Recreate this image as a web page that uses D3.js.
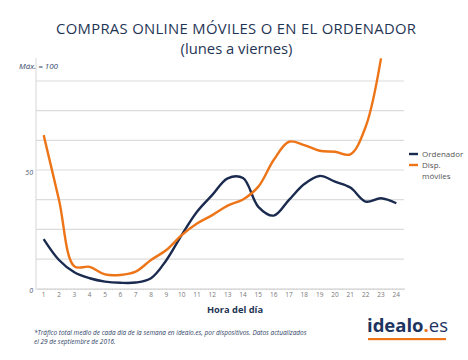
<!DOCTYPE html>
<html><head><meta charset="utf-8">
<script src="https://cdn.jsdelivr.net/npm/d3@7"></script>
<style>
html,body{margin:0;padding:0;background:#fff;}
svg{display:block;font-family:"Open Sans",sans-serif;}
</style></head>
<body>
<script>
const hours = d3.range(1, 25);
const ordenador = [20.9, 12.1, 6.9, 4.4, 3.0, 2.5, 2.6, 4.4, 12.0, 22.6, 32.4, 39.5, 46.5, 46.6, 34.5, 30.8, 37.4, 44.1, 47.5, 45.1, 42.6, 36.7, 38.1, 36.0];
const moviles = [64.7, 37.4, 9.4, 9.2, 6.0, 5.8, 7.2, 12.1, 16.3, 22.6, 27.5, 31.0, 35.0, 37.6, 43.0, 54.2, 61.9, 60.5, 58.1, 57.7, 56.6, 68.2, 97.0];
const yTicks = [0, 50];
const gridVals = [12.5, 25, 37.5, 50, 62.5, 75, 87.5];
const seriesNames = ["Ordenador", "Disp. móviles"];
const colors = ["#1b2b4f", "#ee7418"];

const W = 468, H = 360;
const svg = d3.select("body").append("svg").attr("width", W).attr("height", H);

const x = d3.scaleBand().domain(hours).range([36, 404]);
const y = d3.scaleLinear().domain([0, 100]).range([288.7, 51.3]);
const xc = d => x(d) + x.bandwidth() / 2;

// Title
svg.append("text").attr("x", 236).attr("y", 33.5).attr("text-anchor", "middle")
  .attr("font-size", 14.8).attr("fill", "#1f3554")
  .attr("textLength", 360).attr("lengthAdjust", "spacing")
  .text("COMPRAS ONLINE MÓVILES O EN EL ORDENADOR");
svg.append("text").attr("x", 236.5).attr("y", 54).attr("text-anchor", "middle")
  .attr("font-size", 14.8).attr("fill", "#1f3554").text("(lunes a viernes)");

// gridlines
svg.append("g").selectAll("line").data(gridVals).join("line")
  .attr("x1", 36).attr("x2", 404).attr("y1", d => y(d)).attr("y2", d => y(d))
  .attr("stroke", "#dcdcdc").attr("stroke-width", 1.2);

// vertical axis line
svg.append("line").attr("x1", 36).attr("x2", 36).attr("y1", 58).attr("y2", y(0))
  .attr("stroke", "#d6d6d6").attr("stroke-width", 1);

// x axis
const xAxis = d3.axisBottom(x).tickSize(0).tickPadding(4);
const gx = svg.append("g").attr("transform", `translate(0,${y(0)})`).call(xAxis);
gx.select(".domain").attr("stroke", "#d0d0d0").attr("stroke-width", 1.2);
gx.selectAll("text").attr("font-size", 6.5).attr("fill", "#777").attr("font-family", "Open Sans, sans-serif");
// minor ticks
const minor = d3.range(0, 24 * 4 + 1).map(i => 36 + i * x.bandwidth() / 4);
svg.append("g").selectAll("line").data(minor).join("line")
  .attr("x1", d => d).attr("x2", d => d).attr("y1", y(0)).attr("y2", y(0) + 1.5)
  .attr("stroke", "#cfcfcf").attr("stroke-width", 0.6);

// y labels
svg.append("g").selectAll("text").data(yTicks).join("text")
  .attr("x", 33).attr("y", d => y(d) + 4.5).attr("text-anchor", "end")
  .attr("font-size", 7).attr("font-style", "italic").attr("fill", "#4a5a74").text(d => d);
svg.append("text").attr("x", 19).attr("y", 68.5).attr("font-size", 8).attr("font-style", "italic")
  .attr("fill", "#34496b").text("Máx. = 100");

// lines
const line = d3.line().x((d, i) => xc(hours[i])).y(d => y(d)).curve(d3.curveCatmullRom.alpha(0.5));
svg.append("path").datum(ordenador).attr("d", line).attr("fill", "none")
  .attr("stroke", colors[0]).attr("stroke-width", 2.4).attr("stroke-linejoin", "round");
svg.append("path").datum(moviles).attr("d", line).attr("fill", "none")
  .attr("stroke", colors[1]).attr("stroke-width", 2.4).attr("stroke-linejoin", "round");

// legend
const lg = svg.append("g");
lg.append("line").attr("x1", 409).attr("x2", 418).attr("y1", 154).attr("y2", 154).attr("stroke", colors[0]).attr("stroke-width", 2.4);
lg.append("text").attr("x", 422).attr("y", 157).attr("font-size", 8).attr("fill", "#555").text(seriesNames[0]);
lg.append("line").attr("x1", 409).attr("x2", 418).attr("y1", 165).attr("y2", 165).attr("stroke", colors[1]).attr("stroke-width", 2.4);
lg.append("text").attr("x", 422).attr("y", 168).attr("font-size", 8).attr("fill", "#555").text("Disp.");
lg.append("text").attr("x", 422).attr("y", 178.5).attr("font-size", 8).attr("fill", "#555").text("móviles");

// axis title
svg.append("text").attr("x", 235).attr("y", 312.5).attr("text-anchor", "middle")
  .attr("font-size", 9.3).attr("font-weight", "bold").attr("fill", "#1f3554").text("Hora del día");

// footnote
svg.append("text").attr("x", 34).attr("y", 335).attr("font-size", 6.45).attr("font-style", "italic")
  .attr("fill", "#2d4266").text("*Tráfico total medio de cada día de la semana en idealo.es, por dispositivos. Datos actualizados");
svg.append("text").attr("x", 34).attr("y", 343.5).attr("font-size", 6.45).attr("font-style", "italic")
  .attr("fill", "#2d4266").text("el 29 de septiembre de 2016.");

// logo
const logo = svg.append("text").attr("x", 367).attr("y", 332).attr("font-size", 18.5).attr("font-family", "Open Sans, sans-serif");
logo.append("tspan").attr("font-weight", "bold").attr("fill", "#1d3461").text("idealo");
logo.append("tspan").attr("font-weight", "bold").attr("fill", "#ee7418").text(".");
logo.append("tspan").attr("fill", "#1d3461").text("es");
svg.append("rect").attr("x", 368).attr("y", 338).attr("width", 78).attr("height", 2.2).attr("fill", "#ee7418");
</script>
</body></html>
